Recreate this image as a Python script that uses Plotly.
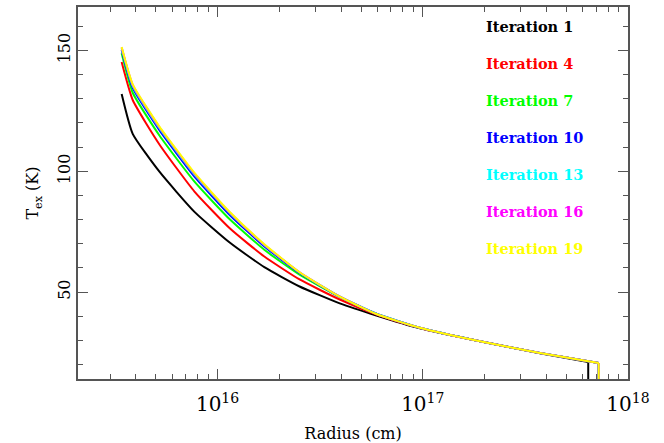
import plotly.graph_objects as go

# ---- data ----
radius_cm = [3.41e15, 3.86e15, 5.21e15, 7.72e15, 1.15e16, 1.69e16, 2.51e16,
             3.94e16, 5.94e16, 9.67e16, 1.90e17, 3.72e17]

iterations = ["Iteration 1", "Iteration 4", "Iteration 7", "Iteration 10",
              "Iteration 13", "Iteration 16", "Iteration 19"]
colors = ["#000000", "#ff0000", "#00ff00", "#0000ff", "#00ffff", "#ff00ff", "#ffff00"]

tex_it1 = [132.0, 115.5, 99.8, 83.2, 70.4, 60.3, 52.3, 45.3, 40.3, 35.0, 29.6, 24.7]
tex_it4 = [145.2, 129.5, 111.1, 91.6, 76.3, 64.7, 55.2, 46.9, 40.7, 35.1, 29.6, 24.8]
tex_it7 = [148.8, 132.5, 114.8, 95.7, 80.0, 67.5, 57.2, 48.0, 41.0, 35.2, 29.6, 24.8]
tex_it10 = [150.3, 134.5, 117.0, 97.8, 81.8, 68.9, 57.9, 48.1, 41.0, 35.2, 29.6, 24.8]
tex_it13 = [150.9, 135.3, 117.8, 98.6, 82.5, 69.4, 58.1, 48.1, 41.0, 35.2, 29.6, 24.8]
tex_it16 = [151.2, 135.7, 118.2, 99.0, 82.8, 69.6, 58.2, 48.1, 40.9, 35.2, 29.6, 24.8]
tex_it19 = [151.4, 136.0, 118.5, 99.3, 83.0, 69.8, 58.2, 48.1, 40.9, 35.2, 29.6, 24.8]

outer_radius = [6.4e17, 7.2e17, 7.2e17, 7.2e17, 7.2e17, 7.2e17, 7.2e17]
outer_tex = [21.0, 20.6, 20.6, 20.6, 20.6, 20.6, 20.6]
floor_tex = 0.0

y_ticks = [50, 100, 150]

series = [tex_it1, tex_it4, tex_it7, tex_it10, tex_it13, tex_it16, tex_it19]

FONT = "DejaVu Serif"
AX = "#555555"

fig = go.Figure()
for name, col, tex, r_out, t_out in zip(iterations, colors, series, outer_radius, outer_tex):
    fig.add_trace(go.Scatter(
        x=radius_cm + [r_out], y=tex + [t_out], mode="lines",
        line=dict(color=col, width=2, shape="spline", smoothing=0.5),
        name=name, showlegend=False))
    fig.add_trace(go.Scatter(
        x=[r_out, r_out], y=[t_out, floor_tex], mode="lines",
        line=dict(color=col, width=2), showlegend=False))

# legend as coloured text
for i, (name, col) in enumerate(zip(iterations, colors)):
    fig.add_annotation(x=0.738, y=0.947 - i * 0.0995, xref="paper", yref="paper",
                       text=name, showarrow=False, xanchor="left", yanchor="middle",
                       font=dict(family=FONT, size=14.5, color=col, weight="bold"))

axis_common = dict(showgrid=False, zeroline=False, showline=True, linecolor=AX,
                   linewidth=1.5, mirror="allticks", ticks="inside", tickcolor=AX,
                   tickwidth=1.2, automargin=False,
                   tickfont=dict(family=FONT, size=16, color="black"))

fig.update_xaxes(type="log", range=[15.32, 18.0], dtick=1, exponentformat="power",
                 ticklen=10, ticklabelstandoff=7,
                 minor=dict(ticks="inside", ticklen=5, dtick="D1", tickcolor=AX,
                            tickwidth=1.2),
                 title=dict(text="Radius (cm)", font=dict(family=FONT, size=16, color="black"),
                            standoff=14),
                 **axis_common)
fig.update_yaxes(range=[14, 168], tickvals=y_ticks, ticklen=10, tickangle=-90,
                 minor=dict(ticks="inside", ticklen=5, dtick=10, tickcolor=AX,
                            tickwidth=1.2),
                 title=dict(text="T<sub>ex</sub> (K)", font=dict(family=FONT, size=16, color="black"),
                            standoff=12),
                 **axis_common)

fig.update_layout(width=664, height=443, margin=dict(l=78, r=36, t=7, b=64),
                  plot_bgcolor="white", paper_bgcolor="white", showlegend=False)

fig.write_html("out.html", config={"displayModeBar": False},
               post_script="document.body.style.margin='0px';document.body.style.overflow='hidden';")
